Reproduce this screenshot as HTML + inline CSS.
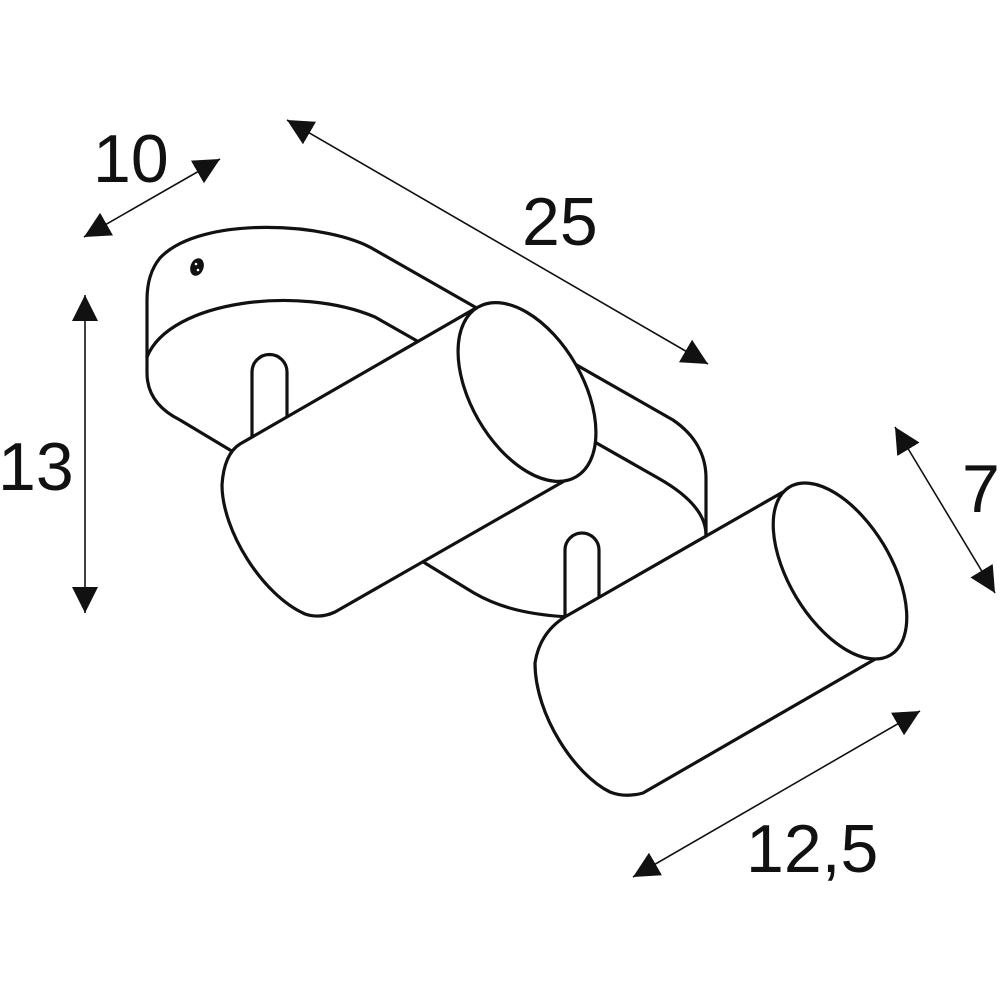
<!DOCTYPE html>
<html><head><meta charset="utf-8"><style>
html,body{margin:0;padding:0;background:#fff;}
svg{display:block;}
text{font-family:"Liberation Sans",Arial,sans-serif;fill:#111;}
</style></head><body>
<svg width="1000" height="1000" viewBox="0 0 1000 1000" xmlns="http://www.w3.org/2000/svg">
<defs>
<marker id="ah" viewBox="0 0 10 10" refX="10" refY="5" markerWidth="26" markerHeight="26" markerUnits="userSpaceOnUse" orient="auto-start-reverse">
<path d="M0,0 L10,5 L0,10 Z" fill="#111"/>
</marker>
</defs>
<g fill="none" stroke="#111" stroke-width="3.2" stroke-linecap="round" stroke-linejoin="round">
<!-- base -->
<path d="M706,540 L706,478 C706,455 695,435 673,420 L375,250 C330,222 200,215 160,258 C150,270 147,285 147,300 L147,373 C147,395 160,410 180,420 L240,456"/>
<path d="M147,357 C170,300 300,285 375,317 L658,478 C690,496 706,515 706,535"/>
<path d="M420,560 L474,593 C500,608 530,615 570,617"/>
<ellipse cx="197" cy="267" rx="5.5" ry="8" transform="rotate(20 197 267)" fill="#111" stroke-width="2"/>
<!-- posts -->
<path d="M252,440 L252,372 A17.5,17.5 0 0 1 287,372 L287,425" fill="#fff"/>
<path d="M565,618 L565,550 A17,17 0 0 1 599,550 L599,600" fill="#fff"/>
<!-- cylinder 1 -->
<path d="M476,308 L240,444 Q224,454 222,485 C222,530 262,595 305,614 Q320,619 335,612 L566,480 L600,420 Z" fill="#fff" stroke="none"/>
<path d="M476,308 L240,444 Q224,454 222,485 C222,530 262,595 305,614 Q320,619 335,612 L566,480"/>
<ellipse cx="527" cy="392" rx="56" ry="98" transform="rotate(-30 527 392)" fill="#fff"/>
<!-- cylinder 2 -->
<path d="M783,492 L570,614 Q540,630 535,663 C535,715 575,775 610,792 Q625,798 643,793 L877,658 L905,600 Z" fill="#fff" stroke="none"/>
<path d="M783,492 L570,614 Q540,630 535,663 C535,715 575,775 610,792 Q625,798 643,793 L877,658"/>
<ellipse cx="840" cy="571" rx="51" ry="98" transform="rotate(-31 840 571)" fill="#fff"/>
</g>
<circle cx="196" cy="264" r="1.3" fill="#fff"/>
<circle cx="198" cy="270" r="1.3" fill="#fff"/>
<!-- dimensions -->
<g stroke="#111" stroke-width="1.6" fill="none">
<line x1="84" y1="237" x2="220" y2="159" marker-start="url(#ah)" marker-end="url(#ah)"/>
<line x1="287" y1="120" x2="708" y2="364" marker-start="url(#ah)" marker-end="url(#ah)"/>
<line x1="85" y1="295" x2="85" y2="613" marker-start="url(#ah)" marker-end="url(#ah)"/>
<line x1="895" y1="427" x2="995" y2="593" marker-start="url(#ah)" marker-end="url(#ah)"/>
<line x1="633" y1="877" x2="920" y2="711" marker-start="url(#ah)" marker-end="url(#ah)"/>
</g>
<text x="93" y="182" font-size="68">10</text>
<text x="522" y="245" font-size="68">25</text>
<text x="-2" y="490" font-size="68">13</text>
<text x="962" y="512" font-size="68">7</text>
<text x="746" y="872" font-size="68">12,5</text>
</svg>
</body></html>
